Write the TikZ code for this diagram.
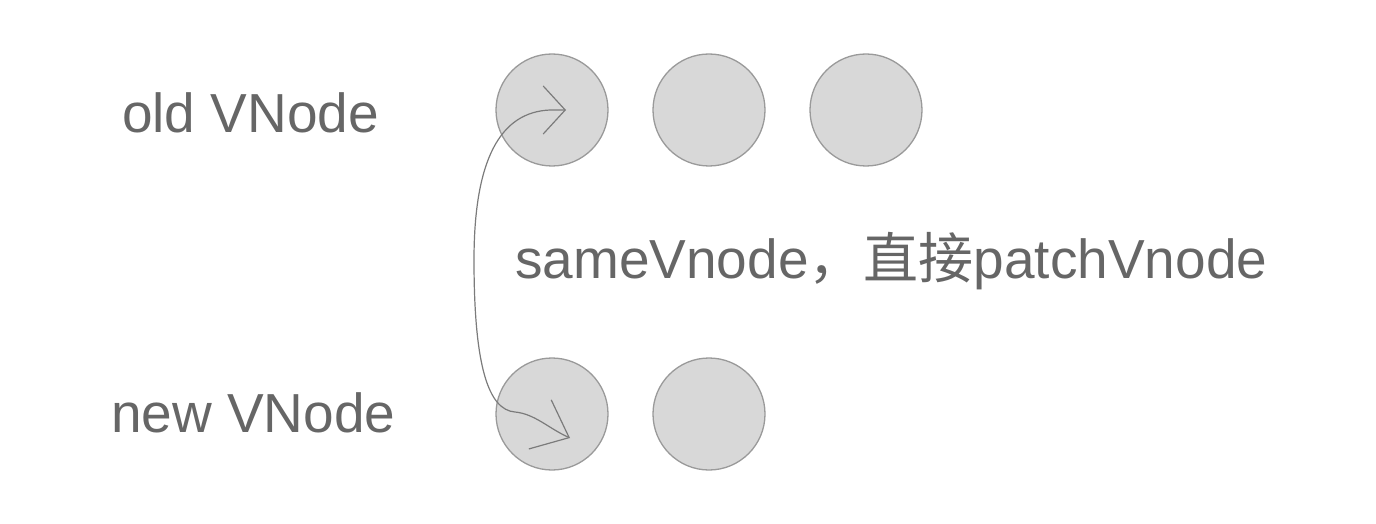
\documentclass[tikz,border=0pt]{standalone}
\usepackage{fontspec}
\setmainfont{Liberation Sans}
\newfontfamily\cjk{Noto Sans CJK SC}
\usetikzlibrary{arrows.meta}

\definecolor{txtgray}{HTML}{666666}
\definecolor{vfill}{HTML}{D8D8D8}
\definecolor{vline}{HTML}{9A9A9A}

\begin{document}
\begin{tikzpicture}[
    x=1pt,y=-1pt,
    vnode/.style={circle,draw=vline,fill=vfill,line width=1.3pt,minimum size=112pt,inner sep=0pt},
    lbl/.style={anchor=base west,inner sep=0pt,text=txtgray,font=\fontsize{55}{60}\selectfont},
    link/.style={draw=vline!80!black,line width=1.2pt,
        {Straight Barb[length=22pt,width=48pt,line width=1.2pt]}-{Straight Barb[length=32pt,width=54pt,line width=1.2pt]}},
]
\useasboundingbox (0,0) rectangle (1376,524);

% old row
\node[vnode] (o1) at (552,110) {};
\node[vnode] (o2) at (709,110) {};
\node[vnode] (o3) at (866,110) {};
% new row
\node[vnode] (n1) at (552,414) {};
\node[vnode] (n2) at (709,414) {};

\node[lbl] (oldlbl) at (122,132) {old VNode};
\node[lbl] (newlbl) at (111,432) {new VNode};
\node[lbl] (note) at (515,278) {sameVnode{\cjk ，直接}patchVnode};

% match line
\coordinate (otip) at ([xshift=14pt]o1.center);
\coordinate (ntip) at ([xshift=18pt,yshift=-24pt]n1.center);
\draw[link] (otip) -- ([xshift=-2pt]o1.center)
    .. controls (500,112) and (474,160) .. (474,260)
    .. controls (474,365) and (488,410) .. (515,412)
    .. controls (535,414) and (548,428) .. (ntip);
\end{tikzpicture}
\end{document}
